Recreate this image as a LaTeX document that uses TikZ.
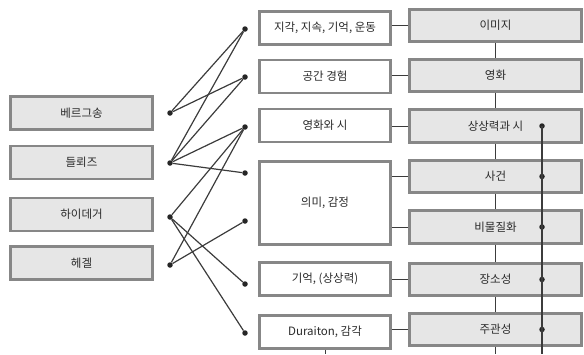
\documentclass[tikz,border=0pt]{standalone}
\usepackage{fontspec}
\setmainfont{Noto Sans CJK KR}
\usetikzlibrary{calc}
\definecolor{boxline}{HTML}{878787}
\definecolor{boxfill}{HTML}{E6E6E6}
\definecolor{linec}{HTML}{3C3C3C}
\definecolor{txt}{HTML}{2A2A2A}
\begin{document}
\begin{tikzpicture}[x=1pt,y=-1pt,
  gbox/.style={draw=boxline,line width=2.8pt,fill=boxfill,inner sep=0pt,
    minimum height=33pt,text=txt,font=\fontsize{11.5}{13}\selectfont},
  lbox/.style={gbox,minimum width=142pt},
  mbox/.style={gbox,fill=white,minimum width=131pt},
  rbox/.style={gbox,minimum width=172pt},
  conn/.style={draw=linec,line width=1.2pt},
  thin conn/.style={draw=linec,line width=0.9pt},
  dot/.style={circle,fill=black!85,inner sep=0pt,minimum size=5.5pt}]
\useasboundingbox (0,0) rectangle (584,354);
% left boxes
\node[lbox] (b1) at (81.5,113) {베르그송};
\node[lbox] (b2) at (81.5,162.5) {들뢰즈};
\node[lbox] (b3) at (81.5,214.5) {하이데거};
\node[lbox] (b4) at (81.5,263) {헤겔};
% middle boxes
\node[mbox] (m1) at (325,28) {지각, 지속, 기억, 운동};
\node[mbox] (m2) at (325,76.5) {공간 경험};
\node[mbox] (m3) at (325,125.5) {영화와 시};
\node[mbox,minimum height=83pt] (m4) at (325,203) {의미, 감정};
\node[mbox] (m5) at (325,279) {기억, (상상력)};
\node[mbox] (m6) at (325,332) {Duraiton, 감각};
% right boxes
\node[rbox,minimum height=32pt] (r1) at (495.5,25.5) {이미지};
\node[rbox,minimum height=32pt] (r2) at (495.5,75.5) {영화};
\node[rbox] (r3) at (495.5,126) {상상력과 시};
\node[rbox,minimum height=32pt] (r4) at (495.5,176.5) {사건};
\node[rbox] (r5) at (495.5,227) {비물질화};
\node[rbox,minimum height=32pt] (r6) at (495.5,279.5) {장소성};
\node[rbox,minimum height=32pt] (r7) at (495.5,329.5) {주관성};
% dots left
\node[dot] (lb1) at (170,113) {};
\node[dot] (lb2) at (170,163) {};
\node[dot] (lb3) at (170,217) {};
\node[dot] (lb4) at (170,265) {};
% dots middle
\node[dot] (rm1) at (245,29) {};
\node[dot] (rm2) at (245,77) {};
\node[dot] (rm3) at (245,127) {};
\node[dot] (rm4a) at (245,173) {};
\node[dot] (rm4b) at (245,221) {};
\node[dot] (rm5) at (245,284) {};
\node[dot] (rm6) at (245,333) {};
% connections
\draw[conn] (lb1) -- (rm1);
\draw[conn] (lb1) -- (rm2);
\draw[conn] (lb2) -- (rm1);
\draw[conn] (lb2) -- (rm2);
\draw[conn] (lb2) -- (rm3);
\draw[conn] (lb2) -- (rm4a);
\draw[conn] (lb3) -- (rm3);
\draw[conn] (lb3) -- (rm5);
\draw[conn] (lb3) -- (rm6);
\draw[conn] (lb4) -- (rm3);
\draw[conn] (lb4) -- (rm4b);
% middle to right
\draw[thin conn] (r1.west) -- (r1.west -| m1.east);
\draw[thin conn] (r2.west) -- (r2.west -| m2.east);
\draw[thin conn] (r3.west) -- (r3.west -| m3.east);
\draw[thin conn] (r4.west) -- (r4.west -| m4.east);
\draw[thin conn] (r5.west) -- (r5.west -| m4.east);
\draw[thin conn] (r6.west) -- (r6.west -| m5.east);
\draw[thin conn] (r7.west) -- (r7.west -| m6.east);
% right vertical chain
\draw[thin conn] (r1.south) -- (r2.north);
\draw[thin conn] (r2.south) -- (r3.north);
\draw[thin conn] (r3.south) -- (r4.north);
\draw[thin conn] (r4.south) -- (r5.north);
\draw[thin conn] (r5.south) -- (r6.north);
\draw[thin conn] (r6.south) -- (r7.north);
\coordinate (r7end) at (495.5,354);
\draw[thin conn] (r7.south) -- (r7end);
\coordinate (m6end) at (325,354);
\draw[thin conn] (m6.south) -- (m6end);
% right dotted vertical line
\node[dot] (d3) at ([xshift=46.5pt]r3.center) {};
\node[dot] (d4) at ([xshift=46.5pt]r4.center) {};
\node[dot] (d5) at ([xshift=46.5pt]r5.center) {};
\node[dot] (d6) at ([xshift=46.5pt]r6.center) {};
\node[dot] (d7) at ([xshift=46.5pt]r7.center) {};
\coordinate (dend) at (542,354);
\draw[conn] (d3.center) -- (dend);
\end{tikzpicture}
\end{document}
